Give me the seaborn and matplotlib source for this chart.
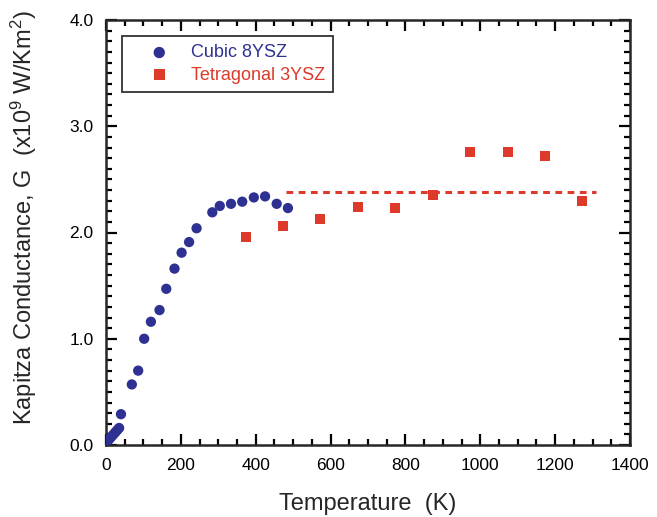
import matplotlib
matplotlib.use("Agg")
import matplotlib.pyplot as plt
import matplotlib.ticker as mtick
import seaborn as sns
import pandas as pd

# Cubic 8YSZ (blue circles)
cubic_T = [5, 10, 15, 20, 25, 30, 35, 40, 69, 86, 102, 120, 143, 161, 183, 202, 222, 242,
           284, 304, 334, 364, 395, 425, 456, 486]
cubic_G = [0.04, 0.06, 0.08, 0.10, 0.12, 0.14, 0.16, 0.29, 0.57, 0.70, 1.00, 1.16, 1.27, 1.47,
           1.66, 1.81, 1.91, 2.04, 2.19, 2.25, 2.27, 2.29, 2.33, 2.34, 2.27, 2.23]

# Tetragonal 3YSZ (red squares)
tetra_T = [373, 473, 573, 673, 773, 873, 973, 1073, 1173, 1273]
tetra_G = [1.96, 2.06, 2.13, 2.24, 2.23, 2.35, 2.755, 2.755, 2.72, 2.30]

# dashed average line
avg_T = [480, 1310]
avg_G = [2.38, 2.38]

blue = "#2e3192"
red = "#dd3a2c"

sns.set_style("ticks")
plt.rcParams["font.family"] = ["Liberation Sans", "DejaVu Sans"]
plt.rcParams["mathtext.default"] = "regular"

cubic = pd.DataFrame({"T": cubic_T, "G": cubic_G})
tetra = pd.DataFrame({"T": tetra_T, "G": tetra_G})

fig = plt.figure(figsize=(6.57, 5.17), dpi=100)
ax = fig.add_axes([106 / 657, 1 - 445 / 517, 524 / 657, 425 / 517])

ax.plot(avg_T, avg_G, color=red, lw=2.2, linestyle=(0, (2.2, 1.8)), zorder=2)
sns.scatterplot(data=cubic, x="T", y="G", ax=ax, marker="o", s=55, color=blue,
                edgecolor="none", label="Cubic 8YSZ", zorder=3)
sns.scatterplot(data=tetra, x="T", y="G", ax=ax, marker="s", s=52, color=red,
                edgecolor="none", label="Tetragonal 3YSZ", zorder=3)

ax.set_xlim(0, 1400)
ax.set_ylim(0, 4.0)
ax.xaxis.set_major_locator(mtick.MultipleLocator(200))
ax.xaxis.set_minor_locator(mtick.MultipleLocator(50))
ax.yaxis.set_major_locator(mtick.MultipleLocator(1.0))
ax.yaxis.set_minor_locator(mtick.MultipleLocator(0.1))
ax.yaxis.set_major_formatter(mtick.FormatStrFormatter("%.1f"))
ax.tick_params(which="both", direction="in", top=True, right=True, width=1.6,
               labelsize=12.5, colors="black", pad=9)
ax.tick_params(which="major", length=8)
ax.tick_params(which="minor", length=4.5)
for s in ax.spines.values():
    s.set_linewidth(1.8)
    s.set_visible(True)

ax.set_xlabel("Temperature  (K)", fontsize=17, labelpad=15)
ax.set_ylabel("Kapitza Conductance, G  (x10$^9$ W/Km$^2$)", fontsize=17)
ax.yaxis.set_label_coords(-0.127, 0.535)

leg = ax.legend(loc="upper left", bbox_to_anchor=(0.031, 0.962), frameon=True,
                fancybox=False, edgecolor="black", fontsize=13, handlelength=3.2,
                handletextpad=0.15, borderpad=0.45, labelspacing=0.3,
                borderaxespad=0, markerscale=1.1)
leg.get_frame().set_linewidth(1.3)
for txt, c in zip(leg.get_texts(), [blue, red]):
    txt.set_color(c)

fig.savefig("out.png", dpi=100)
